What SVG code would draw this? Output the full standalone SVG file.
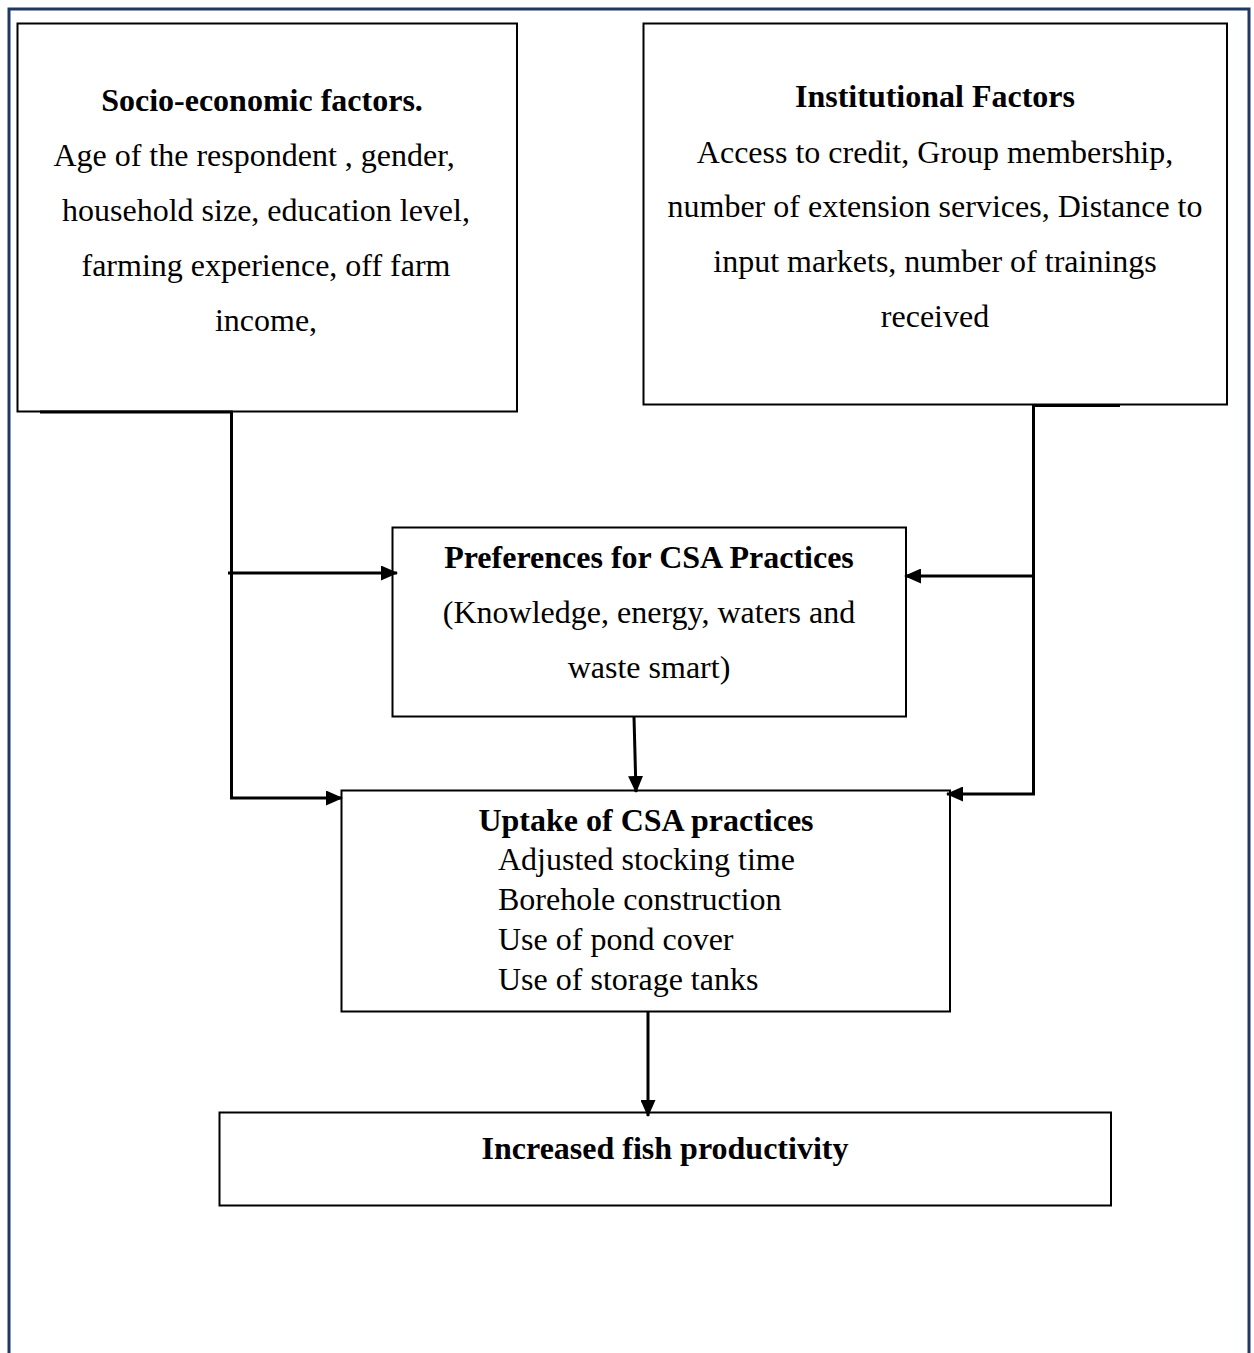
<svg xmlns="http://www.w3.org/2000/svg" width="1254" height="1353" viewBox="0 0 1254 1353">
<style>
.box{fill:#fff;stroke:#000;stroke-width:2}
.t{font-family:"Liberation Serif","Times New Roman",serif;font-size:32px;fill:#000}
.b{font-weight:bold}
.c{text-anchor:middle}
.con{fill:none;stroke:#000;stroke-width:3}
</style>
<defs>
<marker id="ah" markerWidth="17" markerHeight="15" refX="16" refY="7.5" orient="auto" markerUnits="userSpaceOnUse">
<path d="M0,0 L17,7.5 L0,15 Z" fill="#000"/>
</marker>
</defs>
<rect x="0" y="0" width="1254" height="1353" fill="#fff"/>
<path d="M9,1353 V9 H1249 V1353" fill="none" stroke="#1f3864" stroke-width="3"/>
<g id="socio">
<rect class="box" x="17.5" y="23.5" width="499.5" height="388"/>
<text class="t b c" x="262" y="111">Socio-economic factors.</text>
<text class="t c" x="254" y="166">Age of the respondent , gender,</text>
<text class="t c" x="266" y="221">household size, education level,</text>
<text class="t c" x="266" y="276">farming experience, off farm</text>
<text class="t c" x="266" y="331">income,</text>
</g>
<g id="institutional">
<rect class="box" x="643.5" y="23.5" width="583.5" height="381"/>
<text class="t b c" x="935" y="107">Institutional Factors</text>
<text class="t c" x="935" y="163">Access to credit, Group membership,</text>
<text class="t c" x="935" y="217">number of extension services, Distance to</text>
<text class="t c" x="935" y="272">input markets, number of trainings</text>
<text class="t c" x="935" y="327">received</text>
</g>
<g id="preferences">
<rect class="box" x="392.5" y="527.5" width="513.5" height="189"/>
<text class="t b c" x="649" y="568">Preferences for CSA Practices</text>
<text class="t c" x="649" y="623">(Knowledge, energy, waters and</text>
<text class="t c" x="649" y="678">waste smart)</text>
</g>
<g id="uptake">
<rect class="box" x="341.5" y="790.5" width="608.5" height="221"/>
<text class="t b c" x="646" y="831">Uptake of CSA practices</text>
<text class="t" x="498" y="870">Adjusted stocking time</text>
<text class="t" x="498" y="910">Borehole construction</text>
<text class="t" x="498" y="950">Use of pond cover</text>
<text class="t" x="498" y="990">Use of storage tanks</text>
</g>
<g id="fish">
<rect class="box" x="219.5" y="1112.5" width="891.5" height="93"/>
<text class="t b c" x="665" y="1159">Increased fish productivity</text>
</g>
<g id="connectors">
<path class="con" d="M40,412 H231.5 V798 H342" marker-end="url(#ah)"/>
<path class="con" d="M228,573 H397" marker-end="url(#ah)"/>
<path class="con" d="M1120,405.5 H1033.5 V794 H947" marker-end="url(#ah)"/>
<path class="con" d="M1033.5,576 H905" marker-end="url(#ah)"/>
<path class="con" d="M634,717 L636,792" marker-end="url(#ah)"/>
<path class="con" d="M648,1012 V1116" marker-end="url(#ah)"/>
</g>
</svg>
